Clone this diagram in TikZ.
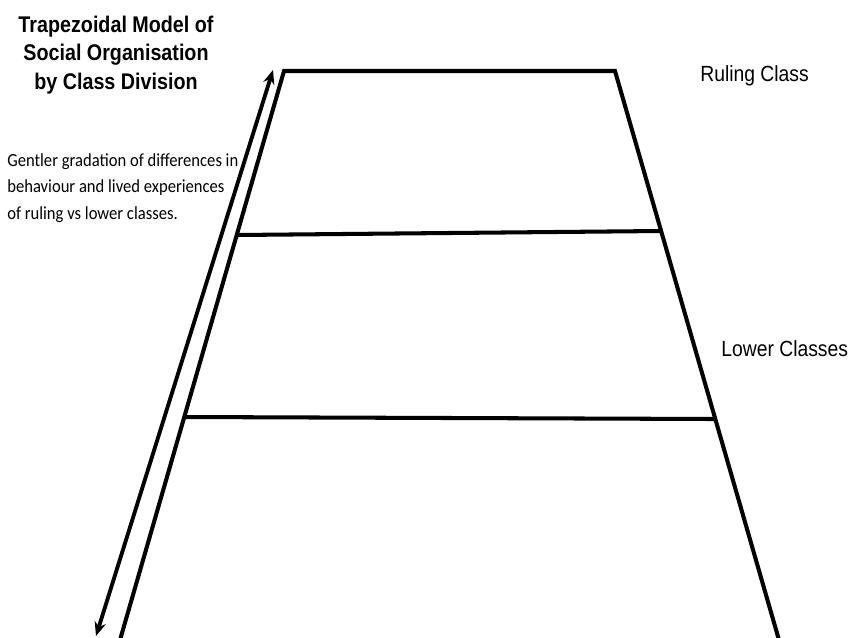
\documentclass[tikz,border=0pt]{standalone}
\usepackage{fontspec}
\setmainfont{Liberation Sans}
\newfontfamily\notefont{Carlito}
\usetikzlibrary{arrows.meta, positioning}

\tikzset{
    band/.style={line width=2.3pt, line join=miter},
    sidetext/.style={font=\fontsize{12.5}{14}\selectfont, xscale=0.88, inner sep=0pt},
}

\begin{document}
\begin{tikzpicture}[x=0.02cm, y=-0.02cm]
    \useasboundingbox (0,0) rectangle (862,637);
    % corners of the trapezoid
    \coordinate (tl) at (284,71);
    \coordinate (tr) at (615,71);
    \coordinate (bl) at (120,640);
    \coordinate (br) at (779,640);
    % ends of the dividing lines
    \coordinate (ul) at (237,235);
    \coordinate (ur) at (661,231);
    \coordinate (ll) at (185,417);
    \coordinate (lr) at (715,419);
    % ends of the arrow
    \coordinate (up) at (273,70);
    \coordinate (dn) at (96,636);

    \draw[band] (bl) -- (tl) -- (tr) -- (br);
    \draw[band] (ul) -- (ur);
    \draw[band] (ll) -- (lr);
    \draw[line width=2.2pt, {Stealth[length=8pt,width=6.5pt]}-{Stealth[length=8pt,width=6.5pt]}] (dn) -- (up);

    \node (title) [align=center, inner sep=0pt, xscale=0.87,
        font=\bfseries\fontsize{12.9}{16.4}\selectfont] at (116,55)
        {Trapezoidal Model of\\Social Organisation\\by Class Division};
    \node (note) [anchor=west, align=left, inner sep=0pt, xscale=0.9,
        font=\notefont\fontsize{10.5}{15}\selectfont] at (7,188)
        {Gentler gradation of differences in\\behaviour and lived experiences\\of ruling vs lower classes.};
    \node (ruling) [sidetext, anchor=west] at (700,76) {Ruling Class};
    \node (lower) [sidetext, anchor=west] at (721,349) {Lower Classes};
\end{tikzpicture}
\end{document}
